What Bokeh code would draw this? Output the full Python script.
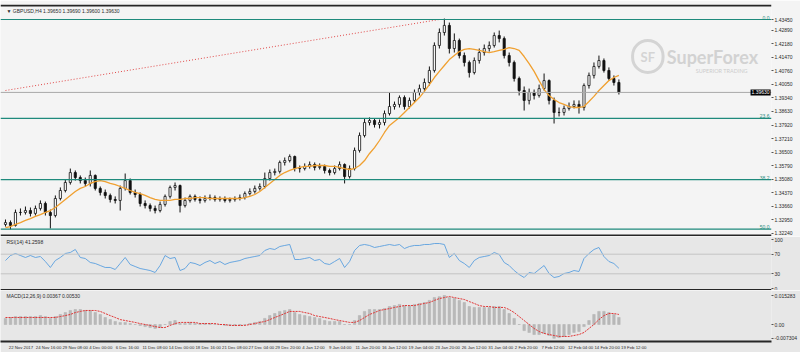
from bokeh.plotting import figure
from bokeh.layouts import column
from bokeh.models import Range1d, FixedTicker, Span, Label, ColumnDataSource, PrintfTickFormatter
from bokeh.core.properties import value
from bokeh.embed import file_html
from bokeh.resources import INLINE

# ---------------- data ----------------
symbol_header = "\u25BC GBPUSD,H4  1.39650 1.39690 1.39600 1.39630"
first_open = 1.3271
close = [1.3281,1.3266,1.3334,1.3334,1.3344,1.3329,1.3355,1.3381,1.3334,1.3318,
         1.3407,1.3449,1.3491,1.3543,1.3517,1.3501,1.3486,1.3528,1.3460,1.3439,
         1.3423,1.3402,1.3397,1.3460,1.3501,1.3439,1.3428,1.3381,1.3370,1.3355,
         1.3344,1.3376,1.3418,1.3465,1.3475,1.3370,1.3397,1.3418,1.3402,1.3397,
         1.3407,1.3412,1.3402,1.3407,1.3397,1.3402,1.3407,1.3412,1.3433,1.3444,
         1.3460,1.3470,1.3512,1.3543,1.3549,1.3596,1.3606,1.3627,1.3564,1.3564,
         1.3575,1.3585,1.3570,1.3575,1.3554,1.3543,1.3564,1.3585,1.3522,1.3564,
         1.3659,1.3737,1.3805,1.3816,1.3795,1.3805,1.3852,1.3889,1.3900,1.3936,
         1.3889,1.3921,1.3963,1.3983,1.4015,1.4078,1.4209,1.4277,1.4314,1.4193,
         1.4235,1.4156,1.4120,1.4067,1.4130,1.4172,1.4193,1.4209,1.4261,1.4245,
         1.4156,1.4120,1.4036,1.3973,1.3921,1.3963,1.3947,1.3983,1.4025,1.3921,
         1.3858,1.3858,1.3879,1.3889,1.3900,1.3884,1.3999,1.4052,1.4099,1.4130,
         1.4078,1.4036,1.4015,1.3963]
high = [1.3297,1.3292,1.3349,1.3355,1.3365,1.3360,1.3370,1.3397,1.3391,1.3349,
        1.3423,1.3465,1.3507,1.3564,1.3554,1.3528,1.3517,1.3554,1.3533,1.3470,
        1.3454,1.3433,1.3418,1.3475,1.3538,1.3512,1.3454,1.3439,1.3397,1.3381,
        1.3370,1.3391,1.3428,1.3475,1.3491,1.3480,1.3412,1.3428,1.3428,1.3418,
        1.3423,1.3428,1.3423,1.3418,1.3418,1.3412,1.3418,1.3428,1.3444,1.3460,
        1.3475,1.3486,1.3543,1.3559,1.3564,1.3606,1.3622,1.3638,1.3632,1.3580,
        1.3591,1.3601,1.3596,1.3591,1.3585,1.3564,1.3580,1.3601,1.3591,1.3580,
        1.3674,1.3753,1.3826,1.3832,1.3826,1.3821,1.3868,1.3963,1.3915,1.3947,
        1.3947,1.3936,1.3978,1.4004,1.4036,1.4099,1.4225,1.4298,1.4350,1.4329,
        1.4272,1.4245,1.4172,1.4130,1.4146,1.4193,1.4214,1.4230,1.4277,1.4287,
        1.4256,1.4172,1.4130,1.4046,1.3994,1.3983,1.3978,1.4004,1.4062,1.4031,
        1.3936,1.3884,1.3894,1.3910,1.3921,1.3921,1.4010,1.4067,1.4120,1.4156,
        1.4141,1.4094,1.4052,1.4031]
low = [1.3260,1.3245,1.3260,1.3318,1.3323,1.3313,1.3318,1.3344,1.3318,1.3250,
       1.3308,1.3397,1.3439,1.3480,1.3501,1.3486,1.3470,1.3470,1.3449,1.3423,
       1.3407,1.3386,1.3381,1.3344,1.3449,1.3428,1.3412,1.3365,1.3355,1.3339,
       1.3329,1.3334,1.3365,1.3407,1.3449,1.3334,1.3360,1.3386,1.3391,1.3381,
       1.3386,1.3397,1.3391,1.3391,1.3386,1.3386,1.3391,1.3397,1.3402,1.3423,
       1.3433,1.3449,1.3460,1.3501,1.3528,1.3538,1.3580,1.3596,1.3549,1.3543,
       1.3554,1.3564,1.3554,1.3559,1.3538,1.3528,1.3533,1.3554,1.3486,1.3512,
       1.3554,1.3648,1.3727,1.3790,1.3779,1.3774,1.3790,1.3842,1.3873,1.3884,
       1.3873,1.3879,1.3910,1.3947,1.3968,1.3999,1.4067,1.4193,1.4261,1.4167,
       1.4172,1.4141,1.4099,1.4041,1.4057,1.4114,1.4156,1.4177,1.4198,1.4225,
       1.4141,1.4099,1.4020,1.3947,1.3868,1.3900,1.3926,1.3936,1.3973,1.3900,
       1.3800,1.3837,1.3842,1.3868,1.3879,1.3852,1.3868,1.3983,1.4036,1.4088,
       1.4067,1.4025,1.3999,1.3952]
ma = [1.3255,1.3260,1.3271,1.3281,1.3292,1.3302,1.3313,1.3323,1.3334,1.3344,
      1.3360,1.3381,1.3402,1.3423,1.3444,1.3460,1.3470,1.3486,1.3496,1.3501,
      1.3496,1.3486,1.3480,1.3470,1.3460,1.3449,1.3439,1.3433,1.3423,1.3412,
      1.3402,1.3397,1.3397,1.3397,1.3402,1.3402,1.3407,1.3407,1.3412,1.3412,
      1.3412,1.3407,1.3407,1.3407,1.3407,1.3407,1.3407,1.3407,1.3412,1.3418,
      1.3428,1.3444,1.3465,1.3486,1.3507,1.3528,1.3543,1.3554,1.3564,1.3570,
      1.3575,1.3575,1.3580,1.3580,1.3580,1.3575,1.3575,1.3570,1.3564,1.3559,
      1.3564,1.3580,1.3606,1.3643,1.3674,1.3711,1.3753,1.3790,1.3811,1.3832,
      1.3858,1.3884,1.3910,1.3936,1.3968,1.4004,1.4041,1.4073,1.4104,1.4135,
      1.4156,1.4177,1.4188,1.4193,1.4188,1.4183,1.4177,1.4172,1.4177,1.4183,
      1.4188,1.4198,1.4193,1.4183,1.4151,1.4114,1.4073,1.4025,1.3978,1.3947,
      1.3926,1.3910,1.3900,1.3889,1.3884,1.3884,1.3889,1.3915,1.3942,1.3973,
      1.3999,1.4025,1.4041,1.4052]
rsi = [57.1,67.3,71.4,67.3,63.3,67.3,63.3,65.3,55.1,42.9,
       57.1,63.3,71.4,73.5,79.6,63.3,61.2,53.1,51.0,46.9,
       42.9,42.9,38.8,51.0,63.3,49.0,44.9,40.8,38.8,36.7,
       32.7,46.9,67.3,61.2,63.3,36.7,40.8,53.1,51.0,46.9,
       53.1,57.1,51.0,55.1,49.0,53.1,55.1,57.1,61.2,63.3,
       65.3,67.3,77.6,81.6,79.6,85.7,87.8,89.8,59.2,59.2,
       61.2,63.3,57.1,59.2,51.0,49.0,55.1,61.2,42.9,55.1,
       77.6,87.8,89.8,87.8,83.7,85.7,87.8,89.8,87.8,89.8,
       81.6,85.7,87.8,87.8,89.8,89.8,91.8,91.8,89.8,63.3,
       71.4,57.1,51.0,42.9,57.1,63.3,65.3,67.3,73.5,69.4,
       53.1,46.9,36.7,28.6,22.4,32.7,30.6,38.8,46.9,30.6,
       22.4,24.5,30.6,32.7,36.7,34.7,61.2,71.4,79.6,83.7,
       65.3,55.1,51.0,41.26]
macd_hist = [0.0032,0.0037,0.0042,0.0042,0.0042,0.0042,0.0042,0.0047,0.0042,0.0032,
             0.0042,0.0053,0.0063,0.0074,0.0079,0.0079,0.0074,0.0074,0.0063,0.0053,
             0.0037,0.0026,0.0016,0.0011,0.0011,0.0005,0.0000,-0.0005,-0.0011,-0.0016,
             -0.0021,-0.0016,0.0000,0.0016,0.0021,0.0005,0.0005,0.0011,0.0005,0.0005,
             0.0005,0.0005,0.0000,0.0000,-0.0005,-0.0005,-0.0005,-0.0005,0.0000,0.0005,
             0.0011,0.0016,0.0032,0.0047,0.0058,0.0069,0.0074,0.0079,0.0063,0.0053,
             0.0047,0.0042,0.0037,0.0032,0.0021,0.0016,0.0016,0.0016,0.0000,0.0000,
             0.0021,0.0047,0.0069,0.0079,0.0079,0.0079,0.0084,0.0095,0.0100,0.0106,
             0.0100,0.0100,0.0106,0.0111,0.0116,0.0127,0.0142,0.0147,0.0153,0.0142,
             0.0137,0.0127,0.0116,0.0095,0.0090,0.0090,0.0090,0.0090,0.0095,0.0095,
             0.0079,0.0058,0.0032,0.0000,-0.0032,-0.0042,-0.0053,-0.0053,-0.0047,-0.0058,
             -0.0073,-0.0069,-0.0063,-0.0053,-0.0042,-0.0037,-0.0011,0.0021,0.0053,0.0069,
             0.0069,0.0063,0.0053,0.0037]
macd_signal = [0.0037,0.0037,0.0037,0.0037,0.0037,0.0037,0.0037,0.0037,0.0037,0.0037,
               0.0037,0.0042,0.0047,0.0053,0.0063,0.0069,0.0074,0.0074,0.0074,0.0069,
               0.0058,0.0047,0.0037,0.0026,0.0021,0.0016,0.0011,0.0005,0.0000,-0.0005,
               -0.0011,-0.0016,-0.0016,-0.0005,0.0005,0.0011,0.0011,0.0011,0.0011,0.0005,
               0.0005,0.0005,0.0005,0.0000,0.0000,-0.0005,-0.0005,-0.0005,-0.0005,0.0000,
               0.0005,0.0011,0.0016,0.0026,0.0037,0.0047,0.0058,0.0069,0.0069,0.0069,
               0.0063,0.0058,0.0047,0.0042,0.0037,0.0032,0.0026,0.0021,0.0016,0.0011,
               0.0011,0.0021,0.0037,0.0053,0.0063,0.0074,0.0079,0.0084,0.0090,0.0095,
               0.0100,0.0100,0.0100,0.0106,0.0111,0.0116,0.0127,0.0137,0.0142,0.0148,
               0.0142,0.0137,0.0132,0.0121,0.0111,0.0100,0.0095,0.0095,0.0090,0.0090,
               0.0090,0.0079,0.0063,0.0042,0.0021,0.0000,-0.0021,-0.0037,-0.0047,-0.0053,
               -0.0058,-0.0063,-0.0063,-0.0063,-0.0058,-0.0053,-0.0042,-0.0021,0.0000,0.0026,
               0.0047,0.0058,0.0058,0.0053]
fib_high = 1.4345
fib_low = 1.2149
fib_levels = [0.0, 23.6, 38.2, 50.0]
trend_bars = [0, 87]
trend_prices = [1.3973, 1.4345]
bid = 1.39630
price_ticks = [1.32240, 1.32950, 1.33660, 1.34370, 1.35080, 1.35790, 1.36500, 1.37210,
               1.37920, 1.38630, 1.39340, 1.40050, 1.40760, 1.41470, 1.42180, 1.42890, 1.43450]
rsi_ticks = [0, 30, 70, 100]
rsi_levels = [30, 70]
macd_ticks = [-0.007304, 0.0, 0.0153]
macd_tick_labels = ["-0.007304", "0.00", "0.015283"]
rsi_text = "RSI(14) 41.2598"
macd_text = "MACD(12,26,9) 0.00367 0.00530"
date_ticks_h4 = [1 + 16 * k for k in range(24)]
date_labels = ["22 Nov 2017", "24 Nov 16:00", "29 Nov 08:00", "4 Dec 00:00", "6 Dec 16:00",
               "11 Dec 08:00", "14 Dec 00:00", "18 Dec 16:00", "21 Dec 08:00", "27 Dec 04:00",
               "29 Dec 20:00", "4 Jan 12:00", "9 Jan 04:00", "11 Jan 20:00", "16 Jan 12:00",
               "19 Jan 04:00", "23 Jan 20:00", "26 Jan 12:00", "31 Jan 04:00", "2 Feb 20:00",
               "7 Feb 12:00", "12 Feb 04:00", "14 Feb 20:00", "19 Feb 12:00"]
BARS_PER_CANDLE = 3   # each drawn candle spans three H4 bars

# ---------------- layout constants ----------------
W = 800
RIGHT = 27
FRAME_W = W - RIGHT
PX_PER_H4 = 5.0 / 3.0
X0_PX = 5.0
x_start = -X0_PX / PX_PER_H4
x_end = (FRAME_W - X0_PX) / PX_PER_H4
xr = Range1d(x_start, x_end)

def xp(px):
    return (px - X0_PX) / PX_PER_H4

PRICE_PX0 = 1.44446
PRICE_PER_PX = 0.000524
def yp(py):
    return PRICE_PX0 - PRICE_PER_PX * py

FONT = "Liberation Sans"
TXT = "#2a2a2a"
MAIN_BG = "#f4f4f4"
LOW_BG = "#e7e7e7"
SEP = "#262626"
TEAL = "#1f8a7c"

def style_yaxis(p, ticks):
    ax = p.yaxis[0]
    ax.ticker = FixedTicker(ticks=ticks)
    ax.major_label_text_font_size = "5px"
    ax.major_label_text_font = FONT
    ax.major_label_text_color = TXT
    ax.major_tick_out = 2
    ax.major_tick_in = 0
    ax.major_tick_line_color = "#555555"
    ax.minor_tick_line_color = None
    ax.axis_line_color = None
    ax.major_label_standoff = 1

# ---------------- main price panel ----------------
n = len(close)
xs = [BARS_PER_CANDLE * i for i in range(n)]
opens = [first_open] + close[:-1]
body_top = [max(o, c) for o, c in zip(opens, close)]
body_bot = [min(o, c) for o, c in zip(opens, close)]
fills = ["#ffffff" if c >= o else "#111111" for o, c in zip(opens, close)]
hi = [max(h, t) for h, t in zip(high, body_top)]
lo = [min(l, b) for l, b in zip(low, body_bot)]
src = ColumnDataSource(dict(x=xs, top=body_top, bot=body_bot, hi=hi, lo=lo, fill=fills, ma=ma))

MAIN_TOP, MAIN_BOT = 4, 236
p = figure(width=W, height=MAIN_BOT, x_range=xr, y_range=Range1d(yp(MAIN_BOT), yp(MAIN_TOP)),
           output_backend="svg", toolbar_location=None, x_axis_location=None,
           y_axis_location="right", min_border_left=0, min_border_right=RIGHT,
           min_border_top=MAIN_TOP, min_border_bottom=0,
           background_fill_color=MAIN_BG, border_fill_color=MAIN_BG, outline_line_color=None)
p.xgrid.visible = False
p.ygrid.visible = False
style_yaxis(p, price_ticks)
p.yaxis[0].formatter = PrintfTickFormatter(format="%.5f")

# watermark
p.add_layout(Label(x=xp(649), y=yp(56), text="SF", text_font="Lato", text_font_style="bold",
                   text_font_size="13px", text_color="#d4d4d4", text_align="center",
                   text_baseline="middle", padding=8, border_line_color="#d4d4d4",
                   border_line_width=3, border_radius=16, level="underlay"))
p.add_layout(Label(x=xp(668), y=yp(56), text="SuperForex", text_font="Lato",
                   text_font_style="bold", text_font_size="18px", text_color="#d2d2d2",
                   text_baseline="middle", level="underlay"))
p.add_layout(Label(x=xp(697), y=yp(70), text="SUPERIOR TRADING", text_font="Lato",
                   text_font_size="5.5px", text_color="#cdcdcd", text_baseline="middle",
                   level="underlay"))

# fibonacci levels
fib_prices = [fib_high - (fib_high - fib_low) * lv / 100.0 for lv in fib_levels]
for fp in fib_prices:
    p.add_layout(Span(location=fp, dimension="width", line_color=TEAL, line_width=1.2))
p.text(x=[xp(771)] * len(fib_prices), y=fib_prices, text=[f"{lv:.1f}" for lv in fib_levels],
       text_align="right", text_baseline="bottom", text_font_size="5px",
       text_font=value(FONT), text_color=TEAL)

# bid line
p.add_layout(Span(location=bid, dimension="width", line_color="#a9a9a9", line_width=1))

# trend line
p.line(x=[BARS_PER_CANDLE * b for b in trend_bars], y=trend_prices, line_color="#e04848",
       line_dash="1 2", line_width=1)

# candles
p.segment(x0="x", y0="hi", x1="x", y1="lo", source=src, line_color="#111111", line_width=1)
p.vbar(x="x", width=1.3, top="top", bottom="bot", source=src, fill_color="fill",
       line_color="#111111", line_width=0.8)
p.line(x="x", y="ma", source=src, line_color="#f0a030", line_width=1.3)

# header, separators
p.add_layout(Span(location=yp(5), dimension="width", line_color=SEP, line_width=2))
p.add_layout(Span(location=yp(235), dimension="width", line_color=SEP, line_width=2))
p.add_layout(Label(x=xp(6), y=yp(10), text=symbol_header, text_font=FONT,
                   text_font_size="5px", text_color=TXT, text_baseline="middle"))
# current-price tag, placed at the right edge of the chart area
p.add_layout(Label(x=xp(752), y=bid, text=f"{bid:.5f}", text_font=FONT, text_font_size="5px",
                   text_color="#ffffff", text_baseline="middle",
                   background_fill_color="#000000", padding=1, level="overlay"))

# ---------------- RSI panel ----------------
RSI_H = 54
R100, R0 = 3.0, 52.0          # local pixel rows of 100 and 0
r_per_px = 100.0 / (R0 - R100)
rsi_range = Range1d(0 - (RSI_H - R0) * r_per_px, 100 + R100 * r_per_px)
pr = figure(width=W, height=RSI_H, x_range=xr, y_range=rsi_range, output_backend="svg",
            toolbar_location=None, x_axis_location=None, y_axis_location="right",
            min_border_left=0, min_border_right=RIGHT, min_border_top=0, min_border_bottom=0,
            background_fill_color=LOW_BG, border_fill_color=LOW_BG, outline_line_color=None)
pr.xgrid.visible = False
pr.ygrid.visible = False
style_yaxis(pr, rsi_ticks)
for lv in rsi_levels:
    pr.add_layout(Span(location=lv, dimension="width", line_color="#c4c4c4", line_width=1))
pr.line(x=xs, y=rsi, line_color="#5a9fdf", line_width=0.9)
pr.add_layout(Span(location=0 - 1.5 * r_per_px, dimension="width", line_color=SEP, line_width=2))
pr.add_layout(Label(x=xp(6), y=100 - 2 * r_per_px, text=rsi_text, text_font=FONT,
                    text_font_size="5px", text_color=TXT, text_baseline="middle"))

# ---------------- MACD panel ----------------
MACD_H = 62
MACD_FRAME = 51
ZERO_ROW = 34.0
M_PX_PER_UNIT = 1895.0
macd_range = Range1d(-(MACD_FRAME - ZERO_ROW) / M_PX_PER_UNIT, ZERO_ROW / M_PX_PER_UNIT)
pm = figure(width=W, height=MACD_H, x_range=xr, y_range=macd_range, output_backend="svg",
            toolbar_location=None, x_axis_location="below", y_axis_location="right",
            min_border_left=0, min_border_right=RIGHT, min_border_top=0,
            min_border_bottom=MACD_H - MACD_FRAME,
            background_fill_color=LOW_BG, border_fill_color=LOW_BG, outline_line_color=None)
pm.xgrid.visible = False
pm.ygrid.visible = False
style_yaxis(pm, macd_ticks)
pm.yaxis[0].major_label_overrides = {t: s for t, s in zip(macd_ticks, macd_tick_labels)}
pm.vbar(x=xs, width=1.5, top=macd_hist, bottom=0, fill_color="#b9b9b9",
        line_color="#b0b0b0", line_width=0.5)
pm.line(x=xs, y=macd_signal, line_color="#e03434", line_dash="2 1", line_width=1)
pm.add_layout(Label(x=xp(6), y=(ZERO_ROW - 5) / M_PX_PER_UNIT, text=macd_text, text_font=FONT,
                    text_font_size="5px", text_color=TXT, text_baseline="middle"))

# date labels: centred labels shifted so each one starts just right of its bar position
DATE_FS = 4.3
label_pos = [t + (len(s) * 0.5 * DATE_FS / 2 + 2) / PX_PER_H4
             for t, s in zip(date_ticks_h4, date_labels)]
xa = pm.xaxis[0]
xa.ticker = FixedTicker(ticks=label_pos)
xa.major_label_overrides = {t: s for t, s in zip(label_pos, date_labels)}
xa.major_label_text_font_size = f"{DATE_FS}px"
xa.major_label_text_font = FONT
xa.major_label_text_color = TXT
xa.major_tick_out = 0
xa.major_tick_in = 0
xa.major_tick_line_color = None
xa.minor_tick_line_color = None
xa.axis_line_color = SEP
xa.axis_line_width = 2
xa.major_label_standoff = 3

layout = column(p, pr, pm, spacing=0)
open("out.html", "w").write(file_html(layout, INLINE))
